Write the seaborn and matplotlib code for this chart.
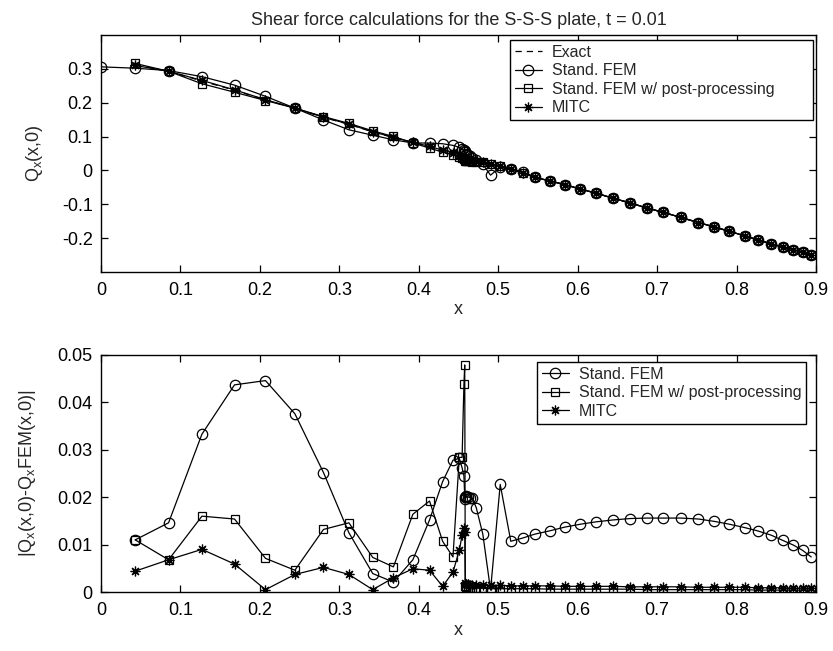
import matplotlib
matplotlib.use("Agg")
import matplotlib.pyplot as plt
import seaborn as sns
import numpy as np
import pandas as pd

# mesh nodes (graded towards x ~ 0.46)
x_nodes = [0.043, 0.085, 0.127, 0.168, 0.207, 0.244, 0.280, 0.312, 0.342, 0.368,
           0.3925, 0.4135, 0.430, 0.443, 0.451, 0.4545, 0.4568, 0.4578, 0.4585, 0.459,
           0.460, 0.4615, 0.464, 0.467, 0.4723, 0.4806, 0.4903, 0.5025, 0.5158, 0.531,
           0.5458, 0.5647, 0.584, 0.6033, 0.623, 0.6443, 0.666, 0.687, 0.708, 0.730,
           0.752, 0.772, 0.791, 0.810, 0.8265, 0.8435, 0.858, 0.8715, 0.883, 0.894]
x_top = [0.0] + x_nodes

# top panel: Q_x(x,0), right part where all curves coincide
tail_top = [-0.020, -0.031, -0.042, -0.055, -0.067, -0.082, -0.096, -0.111, -0.124, -0.139,
            -0.154, -0.167, -0.180, -0.193, -0.205, -0.217, -0.226, -0.234, -0.242, -0.249]

exact_head = [np.nan, 0.312, 0.293, 0.264, 0.237, 0.208, 0.184, 0.157, 0.136, 0.114, 0.097,
              0.083, 0.071, 0.060, 0.052, 0.046, 0.043, 0.040, 0.038, 0.036, 0.034,
              0.033, 0.032, 0.031, 0.030, 0.028, 0.024, 0.019, 0.012, 0.0045, -0.0065]
fem_head = [0.306, 0.302, 0.295, 0.277, 0.252, 0.219, 0.184, 0.149, 0.120, 0.104, 0.0905,
            0.081, 0.081, 0.0788, 0.074, 0.068, 0.063, 0.060, 0.056, 0.053, 0.050,
            0.047, 0.045, 0.042, 0.038, 0.032, 0.018, -0.014, 0.010, 0.005, -0.005]
post_head = [np.nan, 0.316, 0.293, 0.256, 0.231, 0.2065, 0.184, 0.159, 0.139, 0.117, 0.1003,
             0.081, 0.066, 0.054, 0.0457, 0.040, 0.036, 0.033, 0.030, 0.029, 0.028,
             0.028, 0.027, 0.027, 0.026, 0.026, 0.025, 0.0198, 0.012, 0.0045, -0.0065]
mitc_head = [np.nan, 0.310, 0.293, 0.266, 0.238, 0.209, 0.184, 0.157, 0.137, 0.114, 0.098,
             0.083, 0.071, 0.060, 0.052, 0.046, 0.043, 0.040, 0.038, 0.035, 0.033,
             0.032, 0.031, 0.030, 0.029, 0.028, 0.024, 0.019, 0.012, 0.0045, -0.0065]

q_exact = exact_head + tail_top
q_fem = fem_head + tail_top
q_post = post_head + tail_top
q_mitc = mitc_head + tail_top

# bottom panel: |Q_x - Q_x FEM|
err_fem = [0.0110, 0.0146, 0.0333, 0.0437, 0.0446, 0.0376, 0.0252, 0.0125, 0.0039, 0.0021,
           0.0068, 0.0152, 0.0233, 0.0278, 0.0282, 0.0262, 0.0245, 0.0201, 0.0196, 0.0203,
           0.0200, 0.0201, 0.0199, 0.0199, 0.0178, 0.0122, 0.0004, 0.0227, 0.0107, 0.0114,
           0.0122, 0.0129, 0.0137, 0.0143, 0.0148, 0.0152, 0.0155, 0.0156, 0.0156, 0.0156,
           0.0154, 0.0149, 0.0143, 0.0136, 0.0129, 0.0120, 0.0109, 0.0099, 0.0088, 0.0074]
err_post = [0.0110, 0.0068, 0.0160, 0.0154, 0.0071, 0.0046, 0.0132, 0.0146, 0.0073, 0.0053,
            0.0164, 0.0192, 0.0107, 0.0074, 0.0284, 0.0284, 0.0438, 0.0479, 0.0012, 0.0010,
            0.0010, 0.0009, 0.0009, 0.0008, 0.0008, 0.0008, 0.0007, 0.0007, 0.0007, 0.0007,
            0.0007, 0.0006, 0.0006, 0.0006, 0.0006, 0.0006, 0.0006, 0.0005, 0.0005, 0.0005,
            0.0005, 0.0005, 0.0005, 0.0005, 0.0004, 0.0004, 0.0004, 0.0004, 0.0004, 0.0004]
err_mitc = [0.0044, 0.0068, 0.0090, 0.0059, 0.0005, 0.0037, 0.0052, 0.0037, 0.0005, 0.0030,
            0.0049, 0.0046, 0.0012, 0.0042, 0.0088, 0.0120, 0.0134, 0.0127, 0.0018, 0.0017,
            0.0016, 0.0016, 0.0015, 0.0015, 0.0015, 0.0014, 0.0014, 0.0014, 0.0013, 0.0013,
            0.0013, 0.0013, 0.0012, 0.0012, 0.0012, 0.0012, 0.0011, 0.0011, 0.0011, 0.0011,
            0.0010, 0.0010, 0.0010, 0.0010, 0.0009, 0.0009, 0.0009, 0.0008, 0.0008, 0.0008]

top = pd.DataFrame({'x': x_top, 'exact': q_exact, 'fem': q_fem, 'post': q_post, 'mitc': q_mitc})
bot = pd.DataFrame({'x': x_nodes, 'fem': err_fem, 'post': err_post, 'mitc': err_mitc})

sns.set_style('ticks')
plt.rcParams['font.family'] = ['Liberation Sans', 'DejaVu Sans']
plt.rcParams['xtick.direction'] = 'in'
plt.rcParams['ytick.direction'] = 'in'
plt.rcParams['xtick.top'] = True
plt.rcParams['ytick.right'] = True
plt.rcParams['mathtext.default'] = 'regular'

fig = plt.figure(figsize=(8.33, 6.51), dpi=100)
ax1 = fig.add_axes([0.1213, 0.5822, 0.8583, 0.364])
ax2 = fig.add_axes([0.1213, 0.0906, 0.8583, 0.3641])

line_kw = dict(color='k', linewidth=0.9, sort=False, estimator=None)
mk = dict(markerfacecolor='none', markeredgecolor='k', markeredgewidth=0.9)
asterisk = (8, 2, 0)

# top panel
sns.lineplot(data=top, x='x', y='exact', ax=ax1, linestyle=(0, (5, 4)), label='Exact', **line_kw)
sns.lineplot(data=top, x='x', y='fem', ax=ax1, marker='o', markersize=7.5,
             label='Stand. FEM', **line_kw, **mk)
sns.lineplot(data=top, x='x', y='post', ax=ax1, marker='s', markersize=6,
             label='Stand. FEM w/ post-processing', **line_kw, **mk)
sns.lineplot(data=top, x='x', y='mitc', ax=ax1, marker=asterisk, markersize=7,
             label='MITC', **line_kw, **mk)

ax1.set_xlim(0, 0.9)
ax1.set_ylim(-0.3, 0.4)
ax1.set_xticks(np.arange(0, 0.91, 0.1))
ax1.set_xticklabels(['0', '0.1', '0.2', '0.3', '0.4', '0.5', '0.6', '0.7', '0.8', '0.9'])
ax1.set_yticks([-0.2, -0.1, 0, 0.1, 0.2, 0.3])
ax1.set_yticklabels(['-0.2', '-0.1', '0', '0.1', '0.2', '0.3'])
ax1.set_xlabel('x', fontsize=13, labelpad=2)
ax1.set_ylabel('Q$_x$(x,0)', fontsize=13, labelpad=12)
ax1.set_title('Shear force calculations for the S-S-S plate, t = 0.01', fontsize=13, pad=7)
leg1 = ax1.legend(loc='upper left', bbox_to_anchor=(0.572, 0.0, 0.4238, 0.979), mode='expand',
                  fontsize=11.5, frameon=True, fancybox=False, edgecolor='k', framealpha=1,
                  handlelength=1.7, labelspacing=0.22, borderaxespad=0, borderpad=0.3,
                  handletextpad=0.6)
leg1.get_frame().set_linewidth(1.0)

# bottom panel
sns.lineplot(data=bot, x='x', y='fem', ax=ax2, marker='o', markersize=7.5,
             label='Stand. FEM', **line_kw, **mk)
sns.lineplot(data=bot, x='x', y='post', ax=ax2, marker='s', markersize=6,
             label='Stand. FEM w/ post-processing', **line_kw, **mk)
sns.lineplot(data=bot, x='x', y='mitc', ax=ax2, marker=asterisk, markersize=7,
             label='MITC', **line_kw, **mk)

ax2.set_xlim(0, 0.9)
ax2.set_ylim(0, 0.05)
ax2.set_xticks(np.arange(0, 0.91, 0.1))
ax2.set_xticklabels(['0', '0.1', '0.2', '0.3', '0.4', '0.5', '0.6', '0.7', '0.8', '0.9'])
ax2.set_yticks([0, 0.01, 0.02, 0.03, 0.04, 0.05])
ax2.set_yticklabels(['0', '0.01', '0.02', '0.03', '0.04', '0.05'])
ax2.set_xlabel('x', fontsize=13, labelpad=2)
ax2.set_ylabel('|Q$_x$(x,0)-Q$_x$FEM(x,0)|', fontsize=13, labelpad=14)
leg2 = ax2.legend(loc='upper right', bbox_to_anchor=(0.986, 0.97),
                  fontsize=11.5, frameon=True, fancybox=False, edgecolor='k', framealpha=1,
                  handlelength=1.7, labelspacing=0.22, borderaxespad=0, borderpad=0.3,
                  handletextpad=0.6)
leg2.get_frame().set_linewidth(1.0)

for ax in (ax1, ax2):
    ax.tick_params(labelsize=13, length=5, width=0.9, colors='k')
    ax.tick_params(axis='x', pad=7)
    ax.tick_params(axis='y', pad=6)
    for s in ax.spines.values():
        s.set_linewidth(1.0)
        s.set_color('k')

fig.savefig('out.png', dpi=100)
